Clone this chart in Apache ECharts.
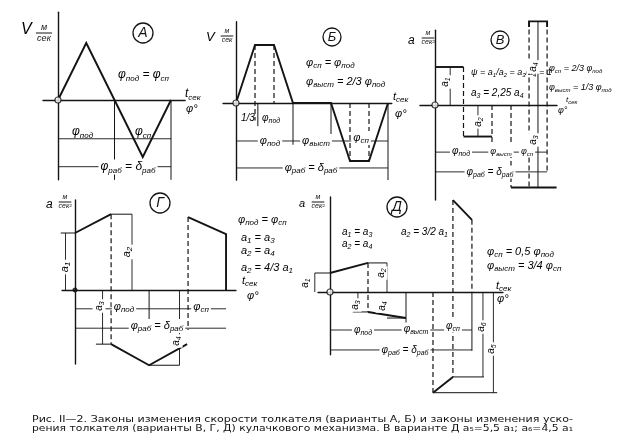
<!DOCTYPE html>
<html>
<head>
<meta charset="utf-8">
<script src="https://cdn.jsdelivr.net/npm/echarts@6/dist/echarts.min.js"></script>
<style>
  html, body { margin: 0; background: #fff; }
  #chart { width: 623px; height: 443px; }
</style>
</head>
<body>
<div id="chart"></div>
<script>
// --- values (phase units along x, amplitude units along y) ---

// A: velocity, triangular law
const curvesA = [[[0, 0], [0.5, 1], [1, 0], [1.5, -1], [2, 0]]];
const dashedA = [];
const thinA = [[[1, 0], [1, -1.4]], [[2, 0], [2, -1.4]]];
const hdimA = [[0, 1, -0.68], [1, 2, -0.68], [0, 2, -1.17]];
const vdimA = [];

// Б: velocity, trapezoid law
const curvesB = [[[0, 0], [1, 1], [2, 1], [3, 0], [5, 0], [6, -1], [7, -1], [8, 0]]];
const dashedB = [[[1, 1], [1, -0.3]], [[2, 1], [2, 0]], [[6, 0], [6, -1]], [[7, 0], [7, -1]]];
const thinB = [[[3, 0], [3, -0.72]], [[5, 0], [5, -0.72]], [[8, 0], [8, -1.33]], [[1.15, 0], [1.15, -0.4]]];
const hdimB = [[0, 3, -0.655], [3, 5, -0.655], [5, 8, -0.655], [0, 8, -1.12]];
const vdimB = [];

// В: acceleration, constant steps
const curvesV = [[[0, 1], [1.5, 1]], [[1.5, -0.83], [3, -0.83]], [[4, -2.17], [6.4, -2.17]], [[4.95, 2.05], [4.95, 2.2], [5.9, 2.2], [5.9, 2.05]]];
const dashedV = [[[1.5, 1], [1.5, -0.83]], [[3, 0], [3, -1.3]], [[4, 0], [4, -2.17]], [[4.95, 2.2], [4.95, -2.17]], [[5.9, 2.2], [5.9, -1.8]]];
const thinV = [[[5.42, 2.2], [5.42, -2.17]]];
const hdimV = [[0, 3, -1.24], [3, 4, -1.24], [4, 5.9, -1.24], [0, 5.9, -1.76]];
const vdimV = [[0.8, 0, 1], [2.26, 0, -0.83]];

// Г: acceleration, linear ramps
const curvesG = [[[0, 1], [1.9, 1.33]], [[1.9, -0.95], [3.9, -1.32], [5.9, -0.95]], [[5.95, 1.28], [7.95, 0.98], [7.95, 0]]];
const dashedG = [[[1.9, 1.33], [1.9, -0.95]], [[5.95, 1.28], [5.95, -0.7]]];
const thinG = [[[1.9, 1.33], [3, 1.33]], [[-0.75, 1], [0, 1]], [[1.1, -0.95], [1.9, -0.95]], [[3.9, -1.32], [5.5, -1.32]], [[3.9, 0], [3.9, -0.55]]];
const hdimG = [[0, 3.9, -0.33], [3.9, 7.95, -0.33], [0, 7.95, -0.67]];
const vdimG = [[-0.5, 0, 1], [3, 0, 1.33], [1.45, 0, -0.95], [5.5, 0, -1.32]];

// Д: acceleration, a5 = 5.5 a1, a6 = 4.5 a1
const curvesD = [[[0, 1], [2, 1.53]], [[2, -1.05], [4, -1.37]], [[6.47, 4.84], [7.47, 3.8]]];
const arrowCurveD = [[[6.47, -4.47], [5.42, -5.3]]];
const dashedD = [[[2, 1.53], [2, -1.05]], [[5.42, 0], [5.42, -5.3]], [[6.47, 4.84], [6.47, -4.47]], [[7.47, 3.8], [7.47, 0]]];
const thinD = [[[2, 1.53], [3, 1.53]], [[-0.8, 1], [0, 1]], [[1.2, -1.05], [2, -1.05]], [[3, -1.37], [4, -1.37]], [[4, 0], [4, -2.1]],
  [[6.47, -4.47], [8.1, -4.47]], [[5.42, -5.3], [8.8, -5.3]], [[7.47, 0], [7.47, -3.1]]];
const hdimD = [[0, 4, -2], [4, 5.42, -2], [5.42, 7.47, -2], [0, 7.47, -3.05]];
const vdimD = [[-0.8, 0, 1], [3, 0, 1.53], [1.47, 0, -1.05], [8.05, 0, -4.47], [8.6, 0, -5.3]];

const caption1 = 'Рис. II—2. Законы изменения скорости толкателя (варианты А, Б) и законы изменения уско-';
const caption2 = 'рения толкателя (варианты В, Г, Д) кулачкового механизма. В варианте Д a₅=5,5 a₁; a₆=4,5 a₁';

// --- layout: origin px, px per unit, axis extents ---
const panels = [
  { o: [58, 100], s: [56.5, 57], x: [-0.265, 2.25], y: [-1.4, 1.54],
    curves: curvesA, dashed: dashedA, thin: thinA, hdim: hdimA, vdim: vdimA, dot: 'hollow' },
  { o: [236, 103], s: [19, 58], x: [-0.68, 8.2], y: [-1.33, 1.4],
    curves: curvesB, dashed: dashedB, thin: thinB, hdim: hdimB, vdim: vdimB, dot: 'hollow' },
  { o: [435, 105], s: [19, 38], x: [-0.79, 6.42], y: [-2.5, 1.97],
    curves: curvesV, dashed: dashedV, thin: thinV, hdim: hdimV, vdim: vdimV, dot: 'hollow' },
  { o: [75, 290], s: [19, 57], x: [-0.68, 8.47], y: [-1.3, 1.58],
    curves: curvesG, dashed: dashedG, thin: thinG, hdim: hdimG, vdim: vdimG, dot: 'solid' },
  { o: [330, 292], s: [19, 19], x: [-0.63, 9.1], y: [-3.3, 5.0],
    curves: curvesD, dashed: dashedD, thin: thinD, hdim: hdimD, vdim: vdimD, dot: 'hollow', arrowCurve: arrowCurveD }
];

const INK = '#141414';
const FF = '"Liberation Sans", sans-serif';

const grid = [], xAxis = [], yAxis = [], series = [];
const noAxisBits = { axisTick: { show: false }, axisLabel: { show: false }, splitLine: { show: false } };

panels.forEach((p, i) => {
  grid.push({
    left: p.o[0] + p.x[0] * p.s[0],
    top: p.o[1] - p.y[1] * p.s[1],
    width: (p.x[1] - p.x[0]) * p.s[0],
    height: (p.y[1] - p.y[0]) * p.s[1]
  });
  const axisLine = { onZero: true, lineStyle: { color: INK, width: 1.4 } };
  xAxis.push({ gridIndex: i, type: 'value', min: p.x[0], max: p.x[1], axisLine, ...noAxisBits });
  yAxis.push({ gridIndex: i, type: 'value', min: p.y[0], max: p.y[1], axisLine, ...noAxisBits });

  const base = { type: 'lines', coordinateSystem: 'cartesian2d', xAxisIndex: i, yAxisIndex: i, silent: true, clip: false, polyline: true };
  series.push({ ...base, z: 5, lineStyle: { color: INK, width: 1.9, opacity: 1 }, data: p.curves.map(c => ({ coords: c })) });
  if (p.arrowCurve) {
    series.push({ ...base, z: 5, symbol: ['none', 'arrow'], symbolSize: 7,
      lineStyle: { color: INK, width: 1.9, opacity: 1 }, data: p.arrowCurve.map(c => ({ coords: c })) });
  }
  series.push({ ...base, lineStyle: { color: INK, width: 1.2, type: [5, 3], opacity: 1 }, data: p.dashed.map(c => ({ coords: c })) });
  series.push({ ...base, lineStyle: { color: INK, width: 1, opacity: 1 }, data: p.thin.map(c => ({ coords: c })) });
  series.push({ ...base, symbol: ['arrow', 'arrow'], symbolSize: 5,
    lineStyle: { color: INK, width: 0.9, opacity: 1 },
    data: p.hdim.map(d => ({ coords: [[d[0], d[2]], [d[1], d[2]]] })).concat(
          p.vdim.map(d => ({ coords: [[d[0], d[1]], [d[0], d[2]]] }))) });
  series.push({
    type: 'scatter', xAxisIndex: i, yAxisIndex: i, silent: true, z: 6,
    symbol: 'circle', symbolSize: p.dot === 'solid' ? 4 : 6,
    itemStyle: { color: p.dot === 'solid' ? INK : '#fff', borderColor: INK, borderWidth: 1.2 },
    data: [[0, 0]]
  });
});

// --- text ---
function richOf(str) {
  return '{g|' + str.replace(/_([^\s=;,/]+)/g, '}{s|$1}{g|') + '}';
}
function label(x, y, str, size, opt = {}) {
  return {
    type: 'text', x, y, rotation: opt.rot || 0, z: 100,
    style: {
      text: richOf(str), align: opt.align || 'left', verticalAlign: 'middle',
      backgroundColor: opt.bg ? '#fff' : undefined, padding: opt.bg ? [0, 2] : 0,
      rich: {
        g: { fontFamily: FF, fontStyle: 'italic', fontSize: size, color: INK, lineHeight: size + 3, verticalAlign: 'middle' },
        s: { fontFamily: FF, fontStyle: 'italic', fontSize: Math.round(size * 0.7), color: INK, lineHeight: size + 3, verticalAlign: 'bottom' }
      }
    }
  };
}
function frac(cx, cy, top, bottom, size) {
  const f = `italic ${size}px ${FF}`;
  return [
    { type: 'text', x: cx, y: cy - 1, z: 100, style: { text: top, font: f, fill: INK, align: 'center', verticalAlign: 'bottom' } },
    { type: 'line', z: 100, shape: { x1: cx - size * 0.9, y1: cy, x2: cx + size * 0.9, y2: cy }, style: { stroke: INK, lineWidth: 1 } },
    { type: 'text', x: cx, y: cy + 1, z: 100, style: { text: bottom, font: f, fill: INK, align: 'center', verticalAlign: 'top' } }
  ];
}
function circled(cx, cy, r, letter) {
  return [
    { type: 'circle', z: 100, shape: { cx, cy, r }, style: { fill: 'none', stroke: INK, lineWidth: 1.3 } },
    { type: 'text', x: cx, y: cy, z: 100, style: { text: letter, font: `italic ${Math.round(r * 1.4)}px ${FF}`, fill: INK, align: 'center', verticalAlign: 'middle' } }
  ];
}
const R = Math.PI / 2;
const graphic = [
  // A
  label(21, 30, 'V', 16), ...frac(44, 33, 'м', 'сек', 9), ...circled(143, 33, 10, 'A'),
  label(118, 75, 'φ_под = φ_сп', 12),
  label(185, 94, 't_сек', 12), label(186, 109, 'φ°', 11),
  label(72, 132, 'φ_под', 12), label(135, 132, 'φ_сп', 12),
  label(128, 167, 'φ_раб = δ_раб', 12, { align: 'center', bg: true }),
  // Б
  label(206, 37, 'V', 13), ...frac(227, 36, 'м', 'сек', 7), ...circled(332, 37, 9, 'Б'),
  label(306, 63, 'φ_сп = φ_под', 11), label(306, 82, 'φ_выст = 2/3 φ_под', 11),
  label(393, 97, 't_сек', 11), label(395, 114, 'φ°', 11),
  label(241, 118, '1/3', 10), label(262, 118, 'φ_под', 10),
  label(270, 141, 'φ_под', 11, { align: 'center', bg: true }), label(316, 141, 'φ_выст', 11, { align: 'center', bg: true }),
  label(361, 138, 'φ_сп', 11, { align: 'center', bg: true }), label(311, 168, 'φ_раб = δ_раб', 11, { align: 'center', bg: true }),
  // В
  label(408, 41, 'a', 12), ...frac(428, 38, 'м', 'сек²', 7), ...circled(500, 40, 9, 'В'),
  label(471, 72, 'ψ = a_1/a_2 = a_3/a_4 = 1', 9), label(471, 93, 'a_3 = 2,25 a_4', 10),
  label(549, 68, 'φ_сп = 2/3 φ_под', 9), label(549, 87, 'φ_выст = 1/3 φ_под', 9),
  label(566, 100, 't_сек', 8), label(558, 110, 'φ°', 9),
  label(445, 82, 'a_1', 10, { rot: R, align: 'center', bg: true }), label(478, 122, 'a_2', 10, { rot: R, align: 'center', bg: true }),
  label(533, 67, 'a_4', 10, { rot: R, align: 'center', bg: true }), label(533, 140, 'a_3', 10, { rot: R, align: 'center', bg: true }),
  label(461, 151, 'φ_под', 10, { align: 'center', bg: true }), label(501, 151, 'φ_выст', 9, { align: 'center', bg: true }),
  label(527, 151, 'φ_сп', 9, { align: 'center', bg: true }), label(490, 172, 'φ_раб = δ_раб', 10, { align: 'center', bg: true }),
  // Г
  label(46, 205, 'a', 12), ...frac(65, 202, 'м', 'сек²', 7), ...circled(160, 203, 10, 'Г'),
  label(238, 220, 'φ_под = φ_сп', 11), label(241, 238, 'a_1 = a_3', 11), label(241, 251, 'a_2 = a_4', 11),
  label(241, 268, 'a_2 = 4/3 a_1', 11),
  label(242, 281, 't_сек', 11), label(247, 296, 'φ°', 11),
  label(65, 267, 'a_1', 11, { rot: R, align: 'center', bg: true }), label(127, 252, 'a_2', 11, { rot: R, align: 'center', bg: true }),
  label(99, 306, 'a_3', 10, { rot: R, align: 'center', bg: true }), label(176, 341, 'a_4', 10, { rot: R, align: 'center', bg: true }),
  label(124, 307, 'φ_под', 11, { align: 'center', bg: true }), label(201, 307, 'φ_сп', 11, { align: 'center', bg: true }),
  label(157, 326, 'φ_раб = δ_раб', 11, { align: 'center', bg: true }),
  // Д
  label(299, 204, 'a', 11), ...frac(318, 202, 'м', 'сек²', 7), ...circled(397, 207, 10, 'Д'),
  label(342, 232, 'a_1 = a_3', 10), label(342, 244, 'a_2 = a_4', 10), label(401, 232, 'a_2 = 3/2 a_1', 10),
  label(487, 252, 'φ_сп = 0,5 φ_под', 11), label(487, 266, 'φ_выст = 3/4 φ_сп', 11),
  label(496, 286, 't_сек', 11), label(497, 299, 'φ°', 11),
  label(305, 283, 'a_1', 10, { rot: R, align: 'center', bg: true }), label(381, 273, 'a_2', 10, { rot: R, align: 'center', bg: true }),
  label(355, 305, 'a_3', 10, { rot: R, align: 'center', bg: true }), label(382, 306, 'a_4', 10, { rot: R, align: 'center', bg: true }),
  label(481, 327, 'a_6', 10, { rot: R, align: 'center', bg: true }), label(491, 349, 'a_5', 10, { rot: R, align: 'center', bg: true }),
  label(363, 330, 'φ_под', 10, { align: 'center', bg: true }), label(416, 329, 'φ_выст', 10, { align: 'center', bg: true }),
  label(453, 326, 'φ_сп', 10, { align: 'center', bg: true }), label(405, 350, 'φ_раб = δ_раб', 10, { align: 'center', bg: true })
];

// caption, stretched to the printed line width
const capFont = '9px "DejaVu Sans"';
const ctx = document.createElement('canvas').getContext('2d');
ctx.font = capFont;
[caption1, caption2].forEach((t, k) => {
  const w = ctx.measureText(t).width;
  graphic.push({
    type: 'text', x: 32, y: 420 + k * 9, scaleX: 541 / w, z: 100,
    style: { text: t, font: capFont, fill: '#111', align: 'left', verticalAlign: 'middle' }
  });
});

const chart = echarts.init(document.getElementById('chart'));
chart.setOption({
  backgroundColor: '#fff',
  animation: false,
  grid, xAxis, yAxis, series, graphic
});
</script>
</body>
</html>
